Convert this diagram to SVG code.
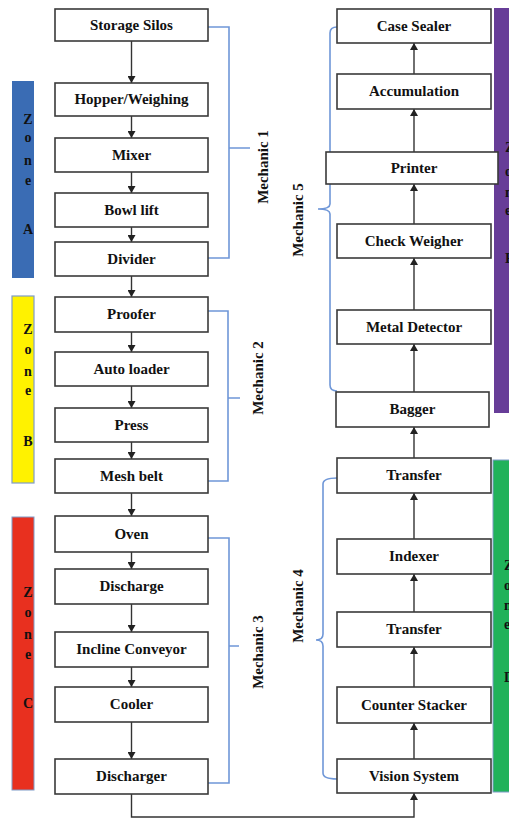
<svg xmlns="http://www.w3.org/2000/svg" width="509" height="821" viewBox="0 0 509 821">
<defs>
<marker id="ah" markerUnits="userSpaceOnUse" markerWidth="7" markerHeight="8" refX="7" refY="4" orient="auto">
<path d="M0,0 L7,4 L0,8 z" fill="#222"/>
</marker>
</defs>
<style>
text{font-family:'Liberation Serif','DejaVu Serif',serif;font-weight:bold;fill:#111}
.box{fill:#fff;stroke:#3a3a3a;stroke-width:1.6}
.t{font-size:15px;text-anchor:middle}
.z{font-size:14px;text-anchor:middle}
.zr{font-size:14px}
.m{font-size:15px;text-anchor:middle}
.br{fill:none;stroke:#6f97d8;stroke-width:1.6}
.ar{fill:none;stroke:#333;stroke-width:1.4;marker-end:url(#ah)}
</style>
<g id="zones">
<g id="zoneA"><rect x="12" y="81" width="22" height="197" fill="#3a6cb4"/>
<text class="z" x="28" y="124">Z</text><text class="z" x="28" y="142">o</text><text class="z" x="28" y="165">n</text><text class="z" x="28" y="185">e</text><text class="z" x="28" y="234">A</text></g>
<g id="zoneB"><rect x="12" y="296" width="22" height="187" fill="#fff200" stroke="#7f9cc8" stroke-width="1.2"/>
<text class="z" x="28" y="334">Z</text><text class="z" x="28" y="354">o</text><text class="z" x="28" y="376">n</text><text class="z" x="28" y="395">e</text><text class="z" x="28" y="446">B</text></g>
<g id="zoneC"><rect x="12" y="517" width="22" height="273" fill="#e8301f" stroke="#7f9cc8" stroke-width="1"/>
<text class="z" x="28" y="597">Z</text><text class="z" x="28" y="617">o</text><text class="z" x="28" y="639">n</text><text class="z" x="28" y="659">e</text><text class="z" x="28" y="708">C</text></g>
<g id="zoneE"><rect x="494" y="8" width="20" height="405" fill="#673d98"/>
<text class="zr" x="505" y="152">Z</text><text class="zr" x="505" y="176">o</text><text class="zr" x="505" y="197">n</text><text class="zr" x="505" y="215">e</text><text class="zr" x="505" y="263">E</text></g>
<g id="zoneD"><rect x="493" y="460" width="20" height="332" fill="#21b25a" stroke="#7f9cc8" stroke-width="1"/>
<text class="zr" x="504" y="570">Z</text><text class="zr" x="504" y="590">o</text><text class="zr" x="504" y="610">n</text><text class="zr" x="504" y="629">e</text><text class="zr" x="504" y="682">D</text></g>
</g>
<g id="connectors">
<path class="ar" d="M131.5,41 V83"/>
<path class="ar" d="M131.5,116 V138"/>
<path class="ar" d="M131.5,172 V193"/>
<path class="ar" d="M131.5,227 V242"/>
<path class="ar" d="M131.5,276 V297"/>
<path class="ar" d="M131.5,332 V352"/>
<path class="ar" d="M131.5,386 V408"/>
<path class="ar" d="M131.5,442 V459"/>
<path class="ar" d="M131.5,493 V516"/>
<path class="ar" d="M131.5,552 V569"/>
<path class="ar" d="M131.5,604 V632"/>
<path class="ar" d="M131.5,667 V687"/>
<path class="ar" d="M131.5,722 V759"/>
<path class="ar" d="M131.5,794 V817 H414 V793"/>
<path class="ar" d="M414,759 V723"/>
<path class="ar" d="M414,687 V647"/>
<path class="ar" d="M414,612 V574"/>
<path class="ar" d="M414,539 V493"/>
<path class="ar" d="M414,458 V427"/>
<path class="ar" d="M414,392 V344"/>
<path class="ar" d="M414,310 V258"/>
<path class="ar" d="M414,224 V184"/>
<path class="ar" d="M414,152 V109"/>
<path class="ar" d="M414,74 V43"/>
</g>
<g id="brackets">
<g id="mech1"><path class="br" d="M208,27 H229 V258 H208 M229,148 H250"/>
<text class="m" transform="translate(268,167) rotate(-90)">Mechanic 1</text></g>
<g id="mech2"><path class="br" d="M208,311 H228 V481 H208 M228,398 H240"/>
<text class="m" transform="translate(263,378) rotate(-90)">Mechanic 2</text></g>
<g id="mech3"><path class="br" d="M208,538 H229 V783 H208 M229,646 H239"/>
<text class="m" transform="translate(263,652) rotate(-90)">Mechanic 3</text></g>
<g id="mech5"><path class="br" d="M337,27 Q330,27 330,33 V204 Q330,209 318,209 Q330,209 330,214 V385 Q330,391 337,391"/>
<text class="m" transform="translate(303,220) rotate(-90)">Mechanic 5</text></g>
<g id="mech4"><path class="br" d="M337,478 Q323,478 323,484 V634 Q323,640 316,640 Q323,640 323,646 V773 Q323,779 337,779"/>
<text class="m" transform="translate(303,606) rotate(-90)">Mechanic 4</text></g>
</g>
<g id="n-storage"><rect class="box" x="55" y="9" width="153" height="32"/><text class="t" x="131.5" y="30">Storage Silos</text></g>
<g id="n-hopper"><rect class="box" x="55" y="83" width="153" height="33"/><text class="t" x="131.5" y="104">Hopper/Weighing</text></g>
<g id="n-mixer"><rect class="box" x="55" y="138" width="153" height="34"/><text class="t" x="131.5" y="160">Mixer</text></g>
<g id="n-bowl"><rect class="box" x="55" y="193" width="153" height="34"/><text class="t" x="131.5" y="215">Bowl lift</text></g>
<g id="n-divider"><rect class="box" x="55" y="242" width="153" height="34"/><text class="t" x="131.5" y="264">Divider</text></g>
<g id="n-proofer"><rect class="box" x="55" y="297" width="153" height="35"/><text class="t" x="131.5" y="319">Proofer</text></g>
<g id="n-autoloader"><rect class="box" x="55" y="352" width="153" height="34"/><text class="t" x="131.5" y="374">Auto loader</text></g>
<g id="n-press"><rect class="box" x="55" y="408" width="153" height="34"/><text class="t" x="131.5" y="430">Press</text></g>
<g id="n-mesh"><rect class="box" x="55" y="459" width="153" height="34"/><text class="t" x="131.5" y="481">Mesh belt</text></g>
<g id="n-oven"><rect class="box" x="55" y="516" width="153" height="36"/><text class="t" x="131.5" y="539">Oven</text></g>
<g id="n-discharge"><rect class="box" x="55" y="569" width="153" height="35"/><text class="t" x="131.5" y="591">Discharge</text></g>
<g id="n-incline"><rect class="box" x="55" y="632" width="153" height="35"/><text class="t" x="131.5" y="654">Incline Conveyor</text></g>
<g id="n-cooler"><rect class="box" x="55" y="687" width="153" height="35"/><text class="t" x="131.5" y="709">Cooler</text></g>
<g id="n-discharger"><rect class="box" x="55" y="759" width="153" height="35"/><text class="t" x="131.5" y="781">Discharger</text></g>
<g id="n-casesealer"><rect class="box" x="337" y="9" width="154" height="34"/><text class="t" x="414" y="31">Case Sealer</text></g>
<g id="n-accumulation"><rect class="box" x="337" y="74" width="154" height="35"/><text class="t" x="414" y="96">Accumulation</text></g>
<g id="n-printer"><rect class="box" x="326" y="152" width="172" height="32"/><text class="t" x="414" y="173">Printer</text></g>
<g id="n-checkweigher"><rect class="box" x="337" y="224" width="154" height="34"/><text class="t" x="414" y="246">Check Weigher</text></g>
<g id="n-metal"><rect class="box" x="337" y="310" width="154" height="34"/><text class="t" x="414" y="332">Metal Detector</text></g>
<g id="n-bagger"><rect class="box" x="336" y="392" width="153" height="35"/><text class="t" x="412.5" y="414">Bagger</text></g>
<g id="n-transfer1"><rect class="box" x="337" y="458" width="154" height="35"/><text class="t" x="414" y="480">Transfer</text></g>
<g id="n-indexer"><rect class="box" x="337" y="539" width="154" height="35"/><text class="t" x="414" y="561">Indexer</text></g>
<g id="n-transfer2"><rect class="box" x="337" y="612" width="154" height="35"/><text class="t" x="414" y="634">Transfer</text></g>
<g id="n-counter"><rect class="box" x="337" y="687" width="154" height="36"/><text class="t" x="414" y="710">Counter Stacker</text></g>
<g id="n-vision"><rect class="box" x="337" y="759" width="154" height="34"/><text class="t" x="414" y="781">Vision System</text></g>
</svg>
